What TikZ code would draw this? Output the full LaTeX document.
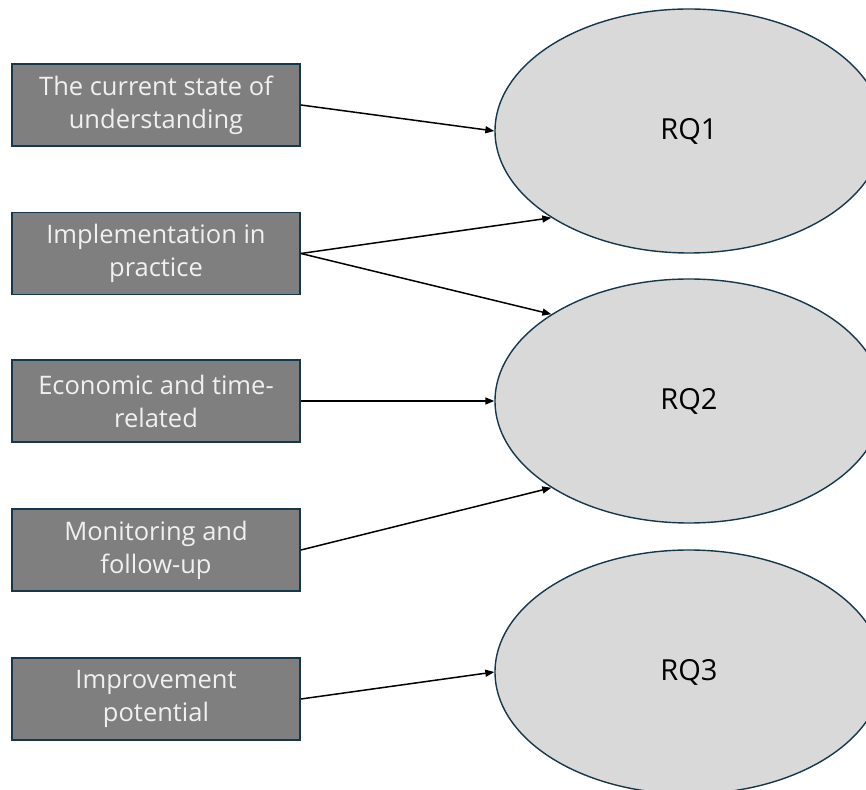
\documentclass[tikz,border=0pt]{standalone}
\usepackage{fontspec}
\setmainfont{Open Sans}
\usetikzlibrary{shapes.geometric,arrows.meta}
\definecolor{boxgray}{HTML}{7F7F7F}
\definecolor{edgeblue}{HTML}{17374C}
\definecolor{ovalgray}{HTML}{D9D9D9}
\tikzset{
	topic/.style={draw=edgeblue, line width=1.8pt, fill=boxgray, text=white!94!black, minimum width=288pt, minimum height=82pt, align=center, inner sep=0pt, font=\fontsize{25.5}{33}\selectfont},
	rq/.style={ellipse, draw=edgeblue, line width=1.4pt, fill=ovalgray, minimum width=388pt, minimum height=244pt, inner sep=0pt, font=\fontsize{29}{34}\selectfont},
	link/.style={line width=1.5pt, -{Triangle[length=9pt,width=7pt]}}
}

\begin{document}
\begin{tikzpicture}[x=1pt,y=1pt]
		%%%%% START %%%%%
		\useasboundingbox (0, 0) rectangle (866, 789);
		
		\node[rq] (rq1) at (689, 658) {RQ1};
		\node[rq] (rq2) at (689, 388) {RQ2};
		\node[rq] (rq3) at (689, 117) {RQ3};
		
		\node[topic] (state) at (156, 684) {The current state of\\understanding};
		\node[topic] (impl) at (156, 535.5) {Implementation in\\practice};
		\node[topic] (econ) at (156, 388) {Economic and time-\\related};
		\node[topic] (monit) at (156, 239) {Monitoring and\\follow-up};
		\node[topic] (improv) at (156, 90) {Improvement\\potential};
		
		\draw[link] (state.east) -- (rq1.west);
		\draw[link] (impl.east) -- (rq1.south west);
		\draw[link] (impl.east) -- (rq2.north west);
		\draw[link] (econ.east) -- (rq2.west);
		\draw[link] (monit.east) -- (rq2.south west);
		\draw[link] (improv.east) -- (rq3.west);
		
		%%%%% END %%%%%
	\end{tikzpicture}
\end{document}
